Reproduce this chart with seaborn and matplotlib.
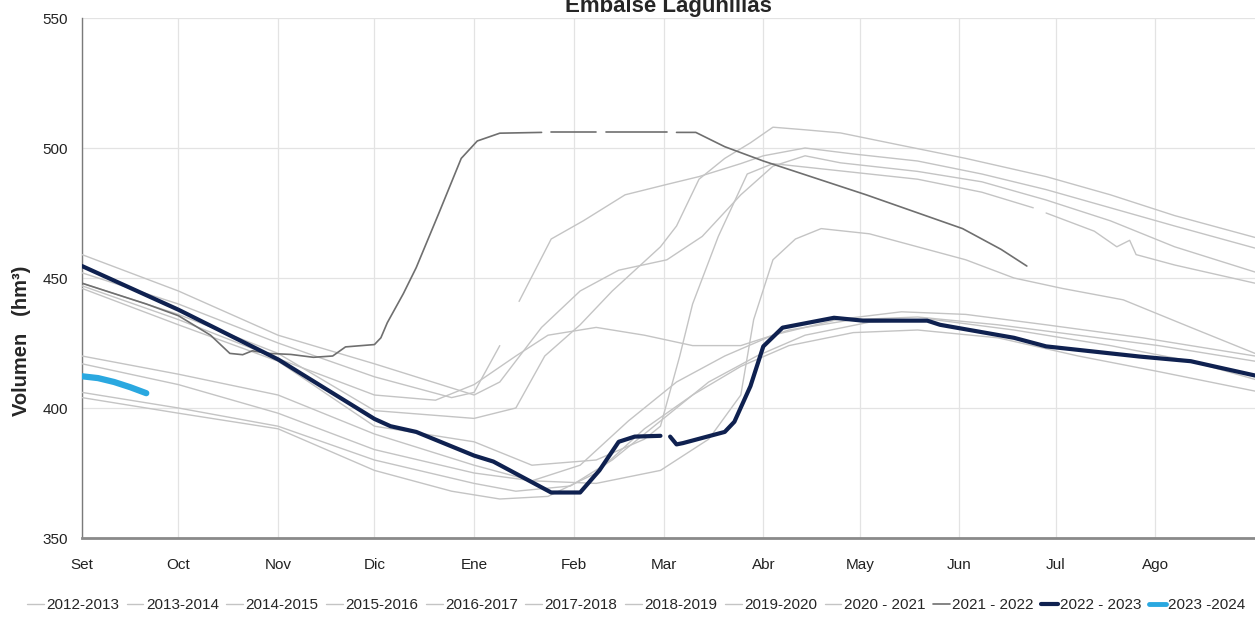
import numpy as np
import pandas as pd
import matplotlib
matplotlib.use("Agg")
import matplotlib.pyplot as plt
import seaborn as sns
from matplotlib.lines import Line2D

# eje x: dias desde el 1 de setiembre
meses = ['Set', 'Oct', 'Nov', 'Dic', 'Ene', 'Feb', 'Mar', 'Abr', 'May', 'Jun', 'Jul', 'Ago']
dias_mes = [0, 30, 61, 91, 122, 153, 181, 212, 242, 273, 303, 334]

nan = np.nan

dias_2012 = [0, 30, 61, 91, 122, 135, 144, 155, 165, 180, 185, 192, 200, 208, 215, 225, 236, 255, 275, 300, 320, 340, 365]
vol_2012 = [448, 436, 421, 399, 396, 400, 420, 432, 445, 462, 470, 488, 496, 502, 508, 507, 505.8, 501, 496, 489, 482, 474, 465.6]

dias_2013 = [0, 30, 61, 91, 115, 122, 130, 133, 136, 146, 156, 169, 182, 192, 205, 212, 225, 240, 260, 280, 300, 320, 340, 365]
vol_2013 = [452, 440, 425, 412, 404, 406, 424, nan, 441, 465, 472, 482, 486, 489, 494, 497, 500, 497.7, 495, 490, 484, 477, 470, 461.5]

dias_2014 = [0, 30, 61, 91, 122, 130, 143, 155, 167, 182, 193, 205, 215, 225, 236, 260, 280, 300, 320, 340, 365]
vol_2014 = [459, 445, 428, 417, 405, 410, 431, 445, 453, 457, 466, 482, 493, 497, 494.3, 491, 487, 480, 472, 462, 452.3]

dias_2015 = [0, 30, 61, 91, 122, 140, 160, 175, 180, 186, 190, 198, 207, 215, 236, 260, 280, 296, 298, 300, 315, 322, 326, 328, 340, 365]
vol_2015 = [446, 432, 418, 393, 387, 378, 380, 388, 393, 420, 440, 466, 490, 494, 491.2, 488, 483, 477, nan, 475, 468, 462, 464.5, 459, 455, 448]

dias_2016 = [0, 30, 61, 91, 122, 140, 160, 180, 195, 205, 209, 215, 222, 230, 245, 260, 275, 290, 305, 324, 345, 365]
vol_2016 = [420, 413, 405, 390, 378, 372, 371, 376, 388, 405, 434, 457, 465, 469, 467, 462, 457, 450, 446, 441.6, 431, 421]

dias_2017 = [0, 30, 61, 91, 122, 140, 155, 170, 185, 200, 215, 235, 255, 275, 300, 330, 365]
vol_2017 = [417, 409, 398, 384, 375, 372, 378, 395, 410, 420, 428, 434, 437, 436, 432, 427, 420]

dias_2018 = [0, 30, 61, 91, 122, 135, 152, 165, 180, 195, 210, 225, 245, 265, 290, 320, 345, 365]
vol_2018 = [406, 400, 393, 380, 371, 368, 370, 380, 395, 410, 420, 428, 433, 434, 430, 424, 418, 411]

dias_2019 = [0, 30, 61, 91, 115, 130, 145, 160, 175, 190, 205, 220, 240, 260, 285, 310, 335, 365]
vol_2019 = [404, 398, 392, 376, 368, 365, 366, 375, 392, 405, 416, 424, 429, 430, 427, 420, 414, 406.5]

dias_2020 = [0, 30, 61, 91, 110, 122, 135, 145, 160, 175, 190, 205, 220, 240, 260, 285, 310, 335, 365]
vol_2020 = [447, 434, 419, 405, 403, 409, 420, 428, 431, 428, 424, 424, 430, 434, 435, 432, 428, 424, 418]

dias_2021 = [0, 10, 20, 30, 40, 46, 50, 53, 58, 65, 72, 78, 82, 91, 93, 95, 100, 104, 111, 118, 123, 130,
             143, 144, 146, 160, 161, 163, 182, 183, 185, 191, 200, 212, 244, 274, 286, 294]
vol_2021 = [448, 444, 440, 435.5, 428, 421, 420.5, 422, 421, 420.6, 419.5, 420, 423.5, 424.4, 427, 432.8, 444, 454, 474.8, 496, 502.7, 505.7,
            506, nan, 506, 506, nan, 506, 506, nan, 506, 506, 500.5, 495, 482, 469, 461, 454.6]

dias_2022 = [0, 30, 61, 91, 96, 104, 122, 128, 146, 155, 161, 167, 172, 180, 181.5, 183, 185, 187, 200, 203, 208, 212, 218,
             234, 243, 263, 267, 290, 300, 329, 345, 365]
vol_2022 = [454.6, 437.8, 418.7, 395.8, 393, 390.8, 381.7, 379.4, 367.5, 367.5, 376, 387, 389, 389.3, nan, 389, 386, 386.5, 390.8, 394.7, 408.4, 423.7, 430.9,
            434.7, 433.6, 433.6, 432, 427, 423.7, 419.8, 418, 412.5]

dias_2023 = [0, 5, 10, 15, 20]
vol_2023 = [412.2, 411.5, 410, 408, 405.7]

etiquetas = ['2012-2013', '2013-2014', '2014-2015', '2015-2016', '2016-2017', '2017-2018',
             '2018-2019', '2019-2020', '2020 - 2021', '2021 - 2022', '2022 - 2023', '2023 -2024']
dias = [dias_2012, dias_2013, dias_2014, dias_2015, dias_2016, dias_2017,
        dias_2018, dias_2019, dias_2020, dias_2021, dias_2022, dias_2023]
volumenes = [vol_2012, vol_2013, vol_2014, vol_2015, vol_2016, vol_2017,
             vol_2018, vol_2019, vol_2020, vol_2021, vol_2022, vol_2023]

gris = '#c4c4c4'
colores = [gris] * 9 + ['#6f6f6f', '#0f2150', '#2aa8e0']
grosores = [1.0] * 9 + [1.2, 3.0, 4.5]

sns.set_theme(style="white")
plt.rcParams['font.family'] = ['Liberation Sans', 'DejaVu Sans']

fig = plt.figure(figsize=(12.55, 6.28), dpi=100)
ax = fig.add_axes([82 / 1255, 1 - 538 / 628, 1 - 82 / 1255, (538 - 18) / 628])

for i, nombre in enumerate(etiquetas):
    df = pd.DataFrame({'dia': dias[i], 'volumen': volumenes[i]})
    df['tramo'] = df['volumen'].isna().cumsum()
    df = df.dropna()
    sns.lineplot(data=df, x='dia', y='volumen', units='tramo', estimator=None, sort=False,
                 color=colores[i], lw=grosores[i], ax=ax, legend=False, zorder=2 + i)

ax.set_xlim(0, 365)
ax.set_ylim(350, 550)
ax.set_xticks(dias_mes)
ax.set_xticklabels(meses)
ax.set_yticks([350, 400, 450, 500, 550])
ax.grid(True, color='#e3e3e3', lw=0.9)
ax.set_axisbelow(True)
ax.set_xlabel('')
ax.set_ylabel('')
for lado in ['top', 'right']:
    ax.spines[lado].set_visible(False)
ax.spines['left'].set_color('#7a7a7a')
ax.spines['left'].set_linewidth(1.0)
ax.spines['bottom'].set_color('#8a8a8a')
ax.spines['bottom'].set_linewidth(2.0)
ax.tick_params(axis='x', length=5, width=1, color='#7a7a7a', direction='inout', pad=12, labelsize=11, labelcolor='#222222')
ax.tick_params(axis='y', length=4, width=1, color='#7a7a7a', direction='out', pad=6, labelsize=11, labelcolor='#222222')

fig.text(668 / 1255, 1 - 12 / 628, 'Embalse Lagunillas', ha='center', va='baseline',
         fontsize=16, fontweight='bold')
fig.text(22 / 1255, 1 - 341 / 628, 'Volumen   (hm³)', rotation=90, ha='center', va='center',
         fontsize=14.5, fontweight='bold')

manijas = [Line2D([0], [0], color=colores[i], lw=min(grosores[i], 3.5)) for i in range(len(etiquetas))]
fig.legend(manijas, etiquetas, loc='center', bbox_to_anchor=(0.507, 1 - 605 / 628), ncol=12,
           frameon=False, fontsize=11, handlelength=1.1, handletextpad=0.15, columnspacing=0.5)

fig.savefig('out.png', dpi=100)
